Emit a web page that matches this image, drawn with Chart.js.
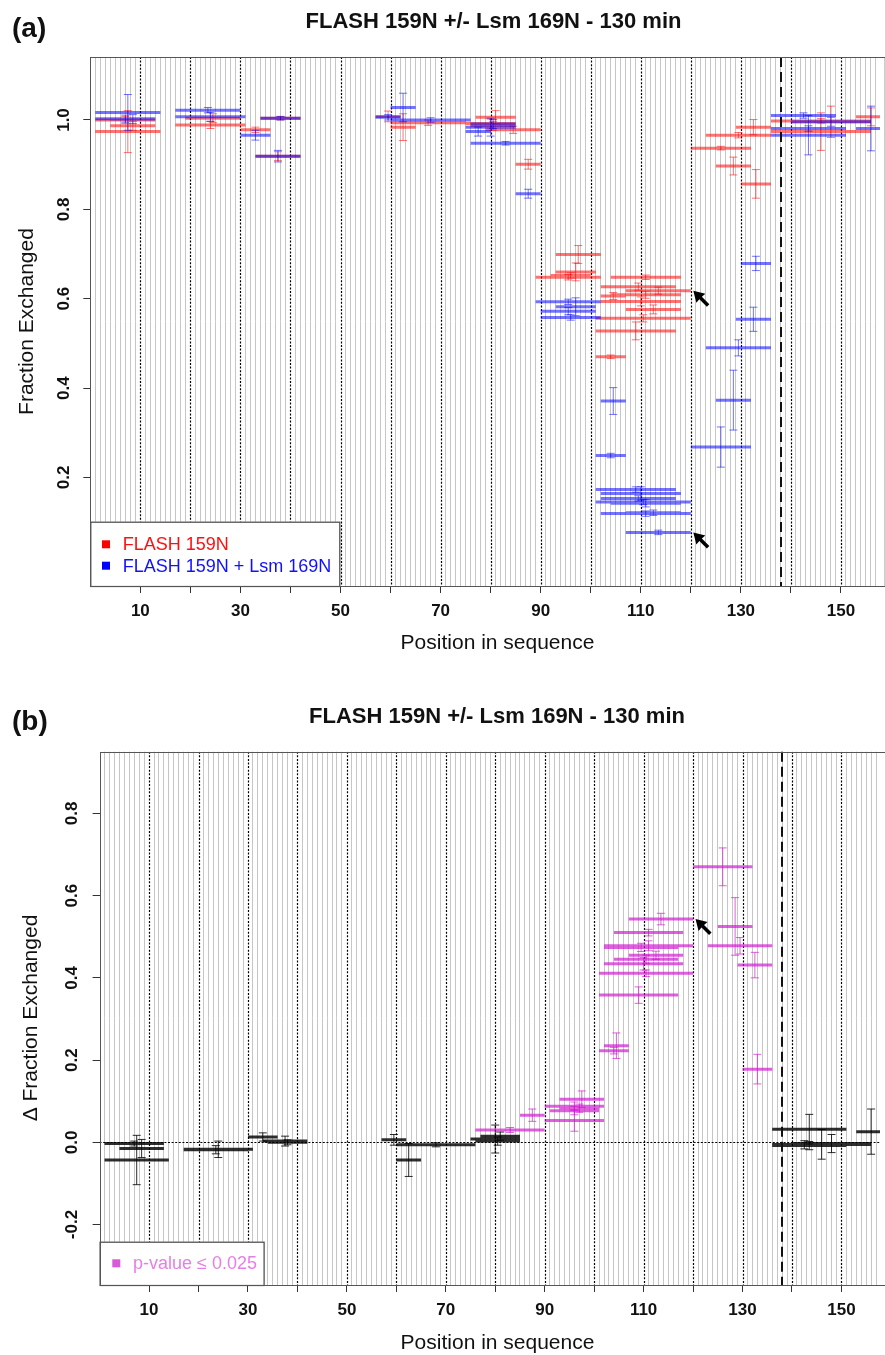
<!DOCTYPE html>
<html><head><meta charset="utf-8">
<script src="https://cdn.jsdelivr.net/npm/chart.js@4.4.1/dist/chart.umd.min.js"></script>
<style>
html,body{margin:0;padding:0;background:#fff;}
#wrap{position:relative;width:885px;height:1355px;overflow:hidden;background:#fff}
canvas{position:absolute;left:0}
</style>
</head><body>
<div id="wrap">
<canvas id="ca" width="885" height="660" style="top:0px"></canvas>
<canvas id="cb" width="885" height="695" style="top:660px"></canvas>
</div>
<script>
// ---------------- DATA ----------------
const chartTitle = 'FLASH 159N +/- Lsm 169N - 130 min';
const panelLabels = ['(a)', '(b)'];
const xAxisTitle = 'Position in sequence';
const yAxisTitleA = 'Fraction Exchanged';
const yAxisTitleB = '\u0394 Fraction Exchanged';
const xTickLabels = [10, 30, 50, 70, 90, 110, 130, 150];
const xTickMarks = [10, 20, 30, 40, 50, 60, 70, 80, 90, 100, 110, 120, 130, 140, 150];
const dottedPositions = [10, 20, 30, 40, 50, 60, 70, 80, 90, 100, 110, 120, 130, 140, 150];
const boundaryPosition = 138;
const yTicksA = [0.2, 0.4, 0.6, 0.8, 1.0];
const yTicksB = [-0.2, 0.0, 0.2, 0.4, 0.6, 0.8];
const legendA = ['FLASH 159N', 'FLASH 159N + Lsm 169N'];
const legendB = ['p-value \u2264 0.025'];

// FLASH 159N (red): peptide start, end, fraction exchanged, error
const redStart = [1, 1, 4, 17, 19, 30, 34, 33, 57, 60, 60, 77, 76, 79, 75, 85, 93, 93, 89, 92, 104, 102, 107, 104, 102, 102, 107, 101, 101, 101, 120, 123, 129, 125, 130, 136, 136, 140, 153];
const redEnd   = [14, 13, 13, 31, 30, 36, 42, 42, 62, 65, 75, 85, 85, 90, 85, 90, 102, 101, 102, 100, 118, 117, 120, 118, 118, 107, 118, 120, 117, 107, 132, 136, 136, 132, 136, 156, 156, 156, 159];
const redValue = [0.974, 1.000, 0.987, 0.989, 1.004, 0.978, 1.004, 0.919, 1.008, 0.984, 0.994, 1.006, 0.987, 0.978, 0.992, 0.901, 0.699, 0.660, 0.648, 0.652, 0.648, 0.627, 0.618, 0.609, 0.594, 0.606, 0.576, 0.556, 0.528, 0.470, 0.937, 0.966, 0.984, 0.897, 0.857, 0.998, 0.974, 0.996, 1.007];
const redError = [0.047, 0.008, 0.010, 0.008, 0.010, 0.006, 0.004, 0.010, 0.012, 0.030, 0.006, 0.015, 0.010, 0.008, 0.010, 0.011, 0.020, 0.020, 0.006, 0.006, 0.005, 0.008, 0.008, 0.008, 0.010, 0.008, 0.010, 0.008, 0.020, 0.004, 0.004, 0.006, 0.017, 0.020, 0.032, 0.005, 0.042, 0.035, 0.020];

// FLASH 159N + Lsm 169N (blue)
const blueStart = [1, 1, 4, 17, 17, 30, 34, 33, 57, 60, 60, 76, 75, 75, 76, 85, 89, 93, 90, 90, 102, 101, 101, 102, 102, 101, 104, 102, 107, 107, 129, 130, 123, 125, 120, 136, 140, 136, 136, 153];
const blueEnd   = [14, 13, 13, 30, 31, 36, 42, 42, 62, 65, 76, 85, 85, 80, 90, 90, 102, 101, 101, 102, 107, 107, 117, 118, 117, 120, 118, 120, 118, 120, 136, 136, 136, 132, 132, 149, 156, 151, 151, 159];
const blueValue = [1.017, 1.003, 1.002, 1.022, 1.007, 0.966, 1.004, 0.919, 1.006, 1.028, 1.000, 0.991, 0.984, 0.974, 0.948, 0.835, 0.593, 0.582, 0.572, 0.558, 0.371, 0.249, 0.173, 0.164, 0.153, 0.145, 0.142, 0.119, 0.121, 0.077, 0.554, 0.679, 0.490, 0.373, 0.268, 1.010, 0.996, 0.981, 0.966, 0.981];
const blueError = [0.040, 0.008, 0.010, 0.006, 0.010, 0.011, 0.004, 0.013, 0.006, 0.032, 0.005, 0.010, 0.020, 0.010, 0.004, 0.010, 0.006, 0.020, 0.008, 0.006, 0.030, 0.005, 0.006, 0.015, 0.006, 0.006, 0.008, 0.006, 0.006, 0.005, 0.027, 0.016, 0.018, 0.067, 0.045, 0.006, 0.010, 0.006, 0.044, 0.050];

// Difference, significant (p <= 0.025, magenta)
const sigStart = [76, 85, 93, 90, 93, 91, 90, 101, 102, 101, 101, 102, 104, 107, 102, 102, 104, 107, 120, 125, 123, 129, 130];
const sigEnd   = [90, 90, 102, 102, 101, 101, 102, 107, 107, 117, 120, 118, 117, 118, 120, 117, 118, 120, 132, 132, 136, 136, 136];
const sigValue = [0.030, 0.066, 0.105, 0.088, 0.083, 0.077, 0.053, 0.223, 0.235, 0.358, 0.411, 0.434, 0.445, 0.455, 0.478, 0.474, 0.510, 0.543, 0.670, 0.525, 0.478, 0.431, 0.178];
const sigError = [0.006, 0.015, 0.020, 0.010, 0.010, 0.010, 0.026, 0.008, 0.031, 0.020, 0.008, 0.015, 0.010, 0.010, 0.012, 0.010, 0.008, 0.014, 0.046, 0.070, 0.020, 0.031, 0.036];

// Difference, not significant (black)
const nsStart = [1, 4, 1, 17, 17, 30, 34, 33, 57, 60, 60, 77, 75, 76, 136, 136, 140, 136, 136, 153];
const nsEnd   = [13, 13, 14, 31, 30, 36, 42, 42, 62, 76, 65, 85, 85, 85, 151, 156, 156, 149, 151, 159];
const nsValue = [-0.003, -0.015, -0.043, -0.017, -0.018, 0.013, 0.000, 0.003, 0.006, -0.006, -0.043, 0.015, 0.008, 0.003, 0.032, -0.005, -0.003, -0.006, -0.008, 0.026];
const nsError = [0.006, 0.022, 0.060, 0.020, 0.010, 0.010, 0.006, 0.012, 0.013, 0.005, 0.040, 0.010, 0.034, 0.010, 0.036, 0.036, 0.022, 0.010, 0.010, 0.055];

// arrows marking peptide 107-120
const arrowsA = [{x: 120.5, y: 0.618}, {x: 120.5, y: 0.077}];
const arrowsB = [{x: 120.5, y: 0.543}];

// ---------------- HELPERS ----------------
const FONT = '"Liberation Sans", Arial, Helvetica, sans-serif';

function segmentPoints(s, e, v) {
  const pts = [];
  for (let i = 0; i < s.length; i++) {
    pts.push({x: s[i], y: v[i]}, {x: e[i], y: v[i]}, {x: e[i], y: null});
  }
  return pts;
}
function errorPoints(s, e, v, err) {
  const pts = [];
  for (let i = 0; i < s.length; i++) {
    const m = (s[i] + e[i]) / 2;
    pts.push({x: m, y: v[i] - err[i]}, {x: m, y: v[i] + err[i]}, {x: m, y: null});
  }
  return pts;
}
function capPoints(s, e, v, err) {
  const pts = [];
  for (let i = 0; i < s.length; i++) {
    const m = (s[i] + e[i]) / 2;
    pts.push({x: m, y: v[i] - err[i]}, {x: m, y: v[i] + err[i]});
  }
  return pts;
}
function seriesDatasets(label, color, s, e, v, err) {
  return [
    {label: label, data: segmentPoints(s, e, v), showLine: true, spanGaps: false,
     borderColor: color, backgroundColor: color, borderWidth: 3, pointRadius: 0, borderCapStyle: 'butt'},
    {label: label + ' error', data: errorPoints(s, e, v, err), showLine: true, spanGaps: false,
     borderColor: color, backgroundColor: color, borderWidth: 1, pointRadius: 0},
    {label: label + ' caps', data: capPoints(s, e, v, err), showLine: false,
     pointStyle: 'line', pointRadius: 4, pointHoverRadius: 4, borderColor: color, borderWidth: 1}
  ];
}
function withOrder(list) {
  return list.map((d, i) => Object.assign(d, {order: list.length - i}));
}

const decorPlugin = {
  id: 'decor',
  beforeDatasetsDraw(chart, args, o) {
    const {ctx, chartArea: ca} = chart;
    const x = chart.scales.x, y = chart.scales.y;
    ctx.save();
    ctx.beginPath(); ctx.rect(ca.left, ca.top, ca.width, ca.height); ctx.clip();
    ctx.strokeStyle = '#000'; ctx.lineWidth = 1.2; ctx.setLineDash([2, 1.6]);
    for (const p of dottedPositions) {
      const px = Math.round(x.getPixelForValue(p)) + 0.5;
      ctx.beginPath(); ctx.moveTo(px, ca.top); ctx.lineTo(px, ca.bottom); ctx.stroke();
    }
    if (o.zeroLine) {
      const py = Math.round(y.getPixelForValue(0)) + 0.5;
      ctx.beginPath(); ctx.moveTo(ca.left, py); ctx.lineTo(ca.right, py); ctx.stroke();
    }
    ctx.restore();
  },
  afterDatasetsDraw(chart, args, o) {
    const {ctx, chartArea: ca} = chart;
    const x = chart.scales.x, y = chart.scales.y;
    ctx.save();
    // boundary dashed line
    ctx.strokeStyle = '#111'; ctx.lineWidth = 2; ctx.setLineDash([10, 5]);
    const bx = Math.round(x.getPixelForValue(boundaryPosition));
    ctx.beginPath(); ctx.moveTo(bx, ca.top); ctx.lineTo(bx, ca.bottom); ctx.stroke();
    ctx.setLineDash([]);
    // arrows
    ctx.fillStyle = '#000';
    for (const a of o.arrows) {
      const tx = x.getPixelForValue(a.x), ty = y.getPixelForValue(a.y);
      ctx.beginPath();
      ctx.moveTo(tx, ty); ctx.lineTo(tx + 12, ty + 3); ctx.lineTo(tx + 8.5, ty + 6);
      ctx.lineTo(tx + 16, ty + 13.5); ctx.lineTo(tx + 13.5, ty + 16); ctx.lineTo(tx + 6, ty + 8.5);
      ctx.lineTo(tx + 3, ty + 12); ctx.closePath(); ctx.fill();
    }
    // legend box
    const L = o.legend;
    ctx.fillStyle = '#fff';
    ctx.fillRect(ca.left, ca.bottom - L.h, L.w, L.h);
    ctx.strokeStyle = '#444'; ctx.lineWidth = 1.2;
    ctx.strokeRect(ca.left + 0.5, ca.bottom - L.h + 0.5, L.w, L.h);
    ctx.font = '18px ' + FONT; ctx.textBaseline = 'middle'; ctx.textAlign = 'left';
    L.items.forEach((it, i) => {
      const cy = ca.bottom - L.h + L.rows[i];
      ctx.fillStyle = it.box;
      ctx.fillRect(ca.left + L.sq - 4, cy - 4, 8, 8);
      ctx.fillStyle = it.color;
      ctx.fillText(it.text, ca.left + L.tx, cy + 1);
    });
    // plot frame
    ctx.strokeStyle = '#555'; ctx.lineWidth = 1;
    ctx.strokeRect(Math.round(ca.left) + 0.5, Math.round(ca.top) + 0.5, ca.width + 5, Math.round(ca.height));
    ctx.restore();
  },
  afterDraw(chart, args, o) {
    const {ctx} = chart;
    ctx.save();
    ctx.fillStyle = '#111';
    ctx.textBaseline = 'middle';
    ctx.font = 'bold 28px ' + FONT; ctx.textAlign = 'left';
    ctx.fillText(o.panel, 12, o.panelY);
    ctx.font = 'bold 22px ' + FONT; ctx.textAlign = 'center';
    ctx.fillText(chartTitle, o.titleX, o.titleY);
    ctx.font = '21px ' + FONT;
    ctx.fillText(xAxisTitle, 497.5, o.xTitleY);
    ctx.translate(o.yTitleX, o.yTitleY); ctx.rotate(-Math.PI / 2);
    ctx.fillText(o.yTitle, 0, 0);
    ctx.restore();
  }
};

function xScale(leftW, h) {
  const vals = [];
  for (let i = 0; i <= 157; i++) vals.push(i);
  return {
    type: 'linear', position: 'bottom', min: 0, max: 157.8,
    afterBuildTicks: s => { s.ticks = vals.map(v => ({value: v})); },
    afterFit: s => { s.height = h; },
    ticks: {autoSkip: false, maxRotation: 0, minRotation: 0, padding: 8, color: '#111',
            font: {family: FONT, size: 17, weight: 'bold'},
            callback: v => xTickLabels.includes(v) ? String(v) : ''},
    grid: {drawOnChartArea: true, drawTicks: true, tickLength: 7, lineWidth: 1,
           color: c => (c.tick && (c.tick.value % 10 === 0)) ? 'rgba(0,0,0,0)' : '#c6c6c6',
           tickColor: c => (c.tick && xTickMarks.includes(c.tick.value)) ? '#333' : 'rgba(0,0,0,0)'},
    border: {display: false}
  };
}
function yScale(min, max, ticksArr, w, pad) {
  return {
    type: 'linear', position: 'left', min: min, max: max,
    afterBuildTicks: s => { s.ticks = ticksArr.map(v => ({value: v})); },
    afterFit: s => { s.width = w; },
    ticks: {minRotation: 90, maxRotation: 90, crossAlign: 'center', padding: pad, color: '#111',
            font: {family: FONT, size: 17, weight: 'bold'},
            callback: v => Number(v).toFixed(1)},
    grid: {drawOnChartArea: false, drawTicks: true, tickLength: 7, tickColor: '#333'},
    border: {display: false}
  };
}

Chart.defaults.font.family = FONT;

const dsA = withOrder([].concat(
  seriesDatasets('FLASH 159N', 'rgba(255,0,0,0.55)', redStart, redEnd, redValue, redError),
  seriesDatasets('FLASH 159N + Lsm 169N', 'rgba(0,0,255,0.55)', blueStart, blueEnd, blueValue, blueError)
));
const dsB = withOrder([].concat(
  seriesDatasets('not significant', 'rgba(0,0,0,0.82)', nsStart, nsEnd, nsValue, nsError),
  seriesDatasets('p-value \u2264 0.025', 'rgba(208,20,208,0.68)', sigStart, sigEnd, sigValue, sigError)
));

new Chart(document.getElementById('ca'), {
  type: 'scatter',
  data: {datasets: dsA},
  options: {
    responsive: false, animation: false, devicePixelRatio: 1, events: [],
    layout: {padding: {top: 57, left: 0, right: 0, bottom: 0}},
    scales: {x: xScale(90.3, 74), y: yScale(-0.043, 1.141, yTicksA, 90.3, 7)},
    plugins: {
      legend: {display: false}, tooltip: {enabled: false}, title: {display: false},
      decor: {
        arrows: arrowsA, zeroLine: false,
        legend: {w: 249, h: 64.3, sq: 15.7, tx: 32.4, rows: [22.6, 44],
                 items: [{text: legendA[0], color: '#ff1010', box: '#ff0000'},
                         {text: legendA[1], color: '#1010ff', box: '#0000ff'}]},
        panel: panelLabels[0], panelY: 29, titleX: 493.5, titleY: 22,
        xTitleY: 643, yTitle: yAxisTitleA, yTitleX: 27.5, yTitleY: 321.5
      }
    }
  },
  plugins: [decorPlugin]
});

new Chart(document.getElementById('cb'), {
  type: 'scatter',
  data: {datasets: dsB},
  options: {
    responsive: false, animation: false, devicePixelRatio: 1, events: [],
    layout: {padding: {top: 91.7, left: 0, right: 0, bottom: 0}},
    scales: {x: xScale(99.6, 70), y: yScale(-0.347, 0.950, yTicksB, 99.6, 5.5)},
    plugins: {
      legend: {display: false}, tooltip: {enabled: false}, title: {display: false},
      decor: {
        arrows: arrowsB, zeroLine: true,
        legend: {w: 164, h: 43.3, sq: 16.7, tx: 33.4, rows: [21.6],
                 items: [{text: legendB[0], color: '#e77ee7', box: '#d85ad8'}]},
        panel: panelLabels[1], panelY: 62.5, titleX: 497, titleY: 57,
        xTitleY: 683.3, yTitle: yAxisTitleB, yTitleX: 31, yTitleY: 358
      }
    }
  },
  plugins: [decorPlugin]
});
</script>
</body></html>
